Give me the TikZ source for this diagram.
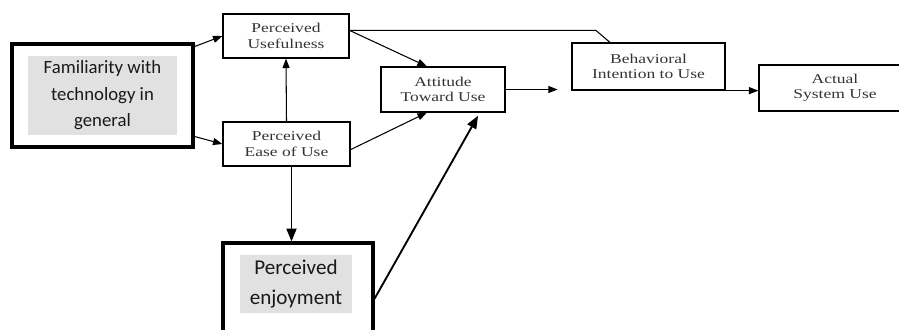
\documentclass[tikz,border=0pt]{standalone}
\usepackage{fontspec}
\setmainfont{Liberation Serif}
\newfontfamily\tamfont[FakeStretch=1.3]{Liberation Serif}
\newfontfamily\calfont{Carlito}
\usetikzlibrary{arrows.meta,calc}

\definecolor{inktext}{HTML}{333333}
\definecolor{hilite}{HTML}{E1E1E1}

\tikzset{
    tambox/.style={draw, line width=1.1pt, align=center, text=inktext,
        font=\tamfont\fontsize{11.5}{13}\selectfont},
    extbox/.style={draw, line width=2.6pt},
    exttext/.style={fill=hilite, align=center, text=black!90, inner sep=0pt},
    arr/.style={line width=0.9pt, -{Triangle[length=8pt,width=6pt]}},
    thickarr/.style={line width=1.6pt, -{Triangle[length=11pt,width=8.5pt]}},
    plain/.style={line width=0.9pt},
}

\begin{document}
\begin{tikzpicture}[x=0.03cm, y=-0.03cm]
        \useasboundingbox (0,0) rectangle (899,329);
        % external factors
        \node[extbox, minimum width=5.43cm, minimum height=3.09cm] (fam) at (102.5,95.5) {};
        \node[exttext, minimum width=4.44cm, minimum height=2.37cm,
              font=\calfont\fontsize{16}{22.7}\selectfont] (famtext) at (fam)
              {Familiarity with\\technology in\\general};
        \node[extbox, minimum width=4.5cm, minimum height=2.7cm] (pe) at (298,288) {};
        \node[exttext, minimum width=3.36cm, minimum height=1.74cm,
              font=\calfont\fontsize{18}{25.5}\selectfont] (petext) at (296,284)
              {Perceived\\enjoyment};
        % TAM boxes
        \node[tambox, minimum width=3.78cm, minimum height=1.32cm] (pu) at (286,36) {Perceived\\Usefulness};
        \node[tambox, minimum width=3.81cm, minimum height=1.32cm] (peou) at (286.5,144) {Perceived\\Ease of Use};
        \node[tambox, minimum width=3.72cm, minimum height=1.35cm] (atu) at (443,89.5) {Attitude\\Toward Use};
        \node[tambox, minimum width=4.59cm, minimum height=1.41cm] (bi) at (648.5,66.5) {Behavioral\\Intention to Use};
        \node[tambox, minimum width=4.56cm, minimum height=1.38cm] (asu) at (835,88) {Actual\\System Use};
        \coordinate (gap) at ($(atu.east)+(52,0)$);
        \coordinate (bend) at ($(bi.north west)!0.25!(bi.north east)$);
        \coordinate (petip) at ($(atu.south west)!0.78!(atu.south east)+(0,3)$);
        \coordinate (pedrop) at ($(peou.south)+(5,0)$);
        % links
        \draw[arr] (fam.28) -- (pu.west);
        \draw[arr] (fam.336) -- (peou.west);
        \draw[arr] (peou.north) -- (pu.south);
        \draw[arr] (pu.5) -- (atu.125);
        \draw[arr] (peou.-5) -- (atu.235);
        \draw[plain] (pu.5) -- ($(pu.5 -| bend)+(-14,0)$) -- (bend);
        \draw[arr] (atu.east) -- (gap);
        \draw[arr] (bi.south east) -- (bi.south east -| asu.west);
        \draw[thickarr] (pedrop) -- (pedrop |- pe.north);
        \draw[thickarr] (pe.352) -- (petip);
\end{tikzpicture}
\end{document}
